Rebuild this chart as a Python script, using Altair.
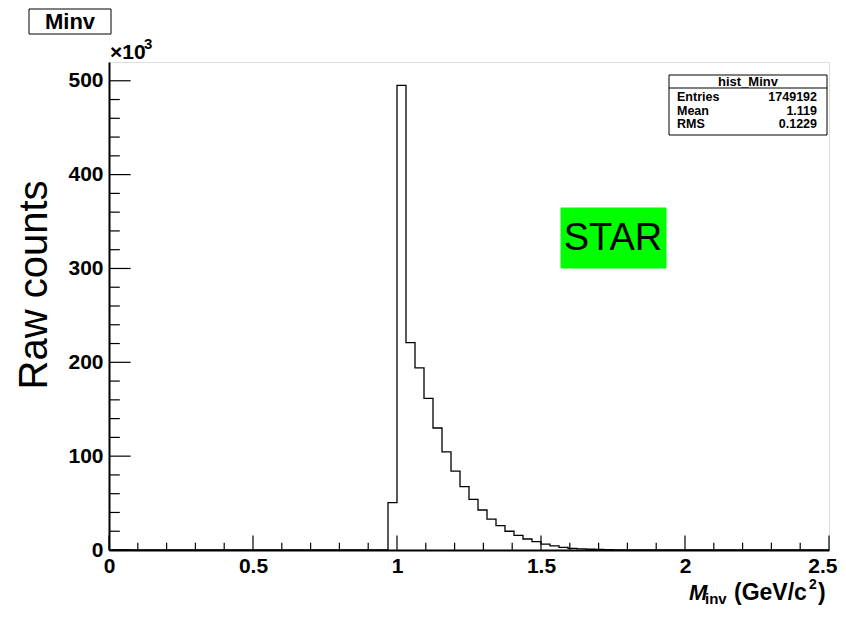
import altair as alt
import pandas as pd

# ---------------- data ----------------
N_BINS = 80
X_LOW, X_HIGH = 0.0, 2.5
counts = [0] * 31 + [
    50500, 495000, 221000, 194000, 161500, 130000, 104500, 84000, 67500, 54000,
    42600, 33000, 26000, 20000, 15600, 11700, 8900, 6200, 4300, 2800,
    1800, 1200, 800, 520, 350, 230, 150, 100, 70, 45,
    30, 20, 12, 8, 6, 4, 3, 2, 1, 1,
    0, 0, 0, 0, 0, 0, 0, 0, 0,
]
x_tick_labels = [0, 0.5, 1, 1.5, 2, 2.5]
y_tick_labels = [0, 100000, 200000, 300000, 400000, 500000]
x_minor_vals = [0.1, 0.2, 0.3, 0.4, 0.6, 0.7, 0.8, 0.9, 1.1, 1.2, 1.3, 1.4,
                1.6, 1.7, 1.8, 1.9, 2.1, 2.2, 2.3, 2.4]
y_minor_vals = [20000, 40000, 60000, 80000, 120000, 140000, 160000, 180000,
                220000, 240000, 260000, 280000, 320000, 340000, 360000, 380000,
                420000, 440000, 460000, 480000]
stats_names = ["Entries", "Mean", "RMS"]
stats_values = ["1749192", "1.119", "0.1229"]
Y_MAX = 520000

bw = (X_HIGH - X_LOW) / N_BINS
edges = [X_LOW + i * bw for i in range(N_BINS + 1)]
hist_df = pd.DataFrame({"x": edges, "y": counts + [counts[-1]]})

W, H = 720, 488
FONT = "Liberation Sans"

x_scale = alt.Scale(domain=[X_LOW, X_HIGH], nice=False, zero=False)
y_scale = alt.Scale(domain=[0, Y_MAX], nice=False)

x_axis = alt.Axis(values=x_tick_labels, format="~g", title=None, ticks=False,
                  domain=True, domainColor="black", domainWidth=2, grid=False,
                  labelFont=FONT, labelFontWeight="bold", labelFontSize=21,
                  labelColor="black", labelPadding=5, labelFlush=False,
                  labelOverlap=False, labelBound=False,
                  labelAlign={"expr": "datum.value >= 2.5 ? 'right' : 'center'"},
                  labelOffset={"expr": "datum.value >= 2.5 ? 8 : 0"})
y_axis = alt.Axis(values=y_tick_labels, labelExpr="datum.value/1000", title=None,
                  ticks=False, domain=True, domainColor="black", domainWidth=2,
                  grid=False, labelFont=FONT, labelFontWeight="bold",
                  labelFontSize=21, labelColor="black", labelPadding=6,
                  labelFlush=False, labelOverlap=False, labelBound=False)

hist = alt.Chart(hist_df).mark_line(
    interpolate="step-after", color="black", strokeWidth=1.3
).encode(
    x=alt.X("x:Q", scale=x_scale, axis=x_axis, title=None),
    y=alt.Y("y:Q", scale=y_scale, axis=y_axis, title=None),
)


def yticks(vals, length):
    return alt.Chart(pd.DataFrame({"v": vals})).mark_rule(
        color="black", strokeWidth=1.2
    ).encode(y=alt.Y("v:Q", scale=y_scale, axis=y_axis, title=None),
             x=alt.value(0), x2=alt.value(length))


def xticks(vals, length):
    return alt.Chart(pd.DataFrame({"v": vals})).mark_rule(
        color="black", strokeWidth=1.2
    ).encode(x=alt.X("v:Q", scale=x_scale, axis=x_axis, title=None),
             y=alt.value(H), y2=alt.value(H - length))


one = pd.DataFrame({"a": [0]})


def label(text, x, y, size, weight="bold", align="left", baseline="alphabetic",
          angle=0, style="normal"):
    return alt.Chart(one).mark_text(
        text=text, font=FONT, fontSize=size, fontWeight=weight, align=align,
        baseline=baseline, angle=angle, fontStyle=style, color="black"
    ).encode(x=alt.value(x), y=alt.value(y))


def box(x, x2, y, y2, fill="white", stroke="black"):
    return alt.Chart(one).mark_rect(fill=fill, stroke=stroke, strokeWidth=1).encode(
        x=alt.value(x), x2=alt.value(x2), y=alt.value(y), y2=alt.value(y2))


layers = [
    hist,
    yticks(y_tick_labels, 21.6), yticks(y_minor_vals, 10.8),
    xticks(x_tick_labels, 14.6), xticks(x_minor_vals, 7.3),
    # title box
    box(-80, 2, -53, -28),
    label("Minv", -39, -40, 22, align="center", baseline="middle"),
    # exponent
    label("×10", 1, -3, 21),
    label("3", 35, -13, 15),
    # stats box
    box(560, 718, 13, 73),
    alt.Chart(one).mark_rule(color="black", strokeWidth=1).encode(
        x=alt.value(560), x2=alt.value(718), y=alt.value(26)),
    label("hist_Minv", 639, 20, 13, align="center", baseline="middle"),
]
for i, (n, v) in enumerate(zip(stats_names, stats_values)):
    yy = 35 + i * 13.5
    layers.append(label(n, 568, yy, 12.5, baseline="middle"))
    layers.append(label(v, 708, yy, 12.5, align="right", baseline="middle"))

layers += [
    # STAR
    box(452, 557, 146, 206, fill="#00ff00", stroke="#00ff00"),
    label("STAR", 504, 177, 38, weight="normal", align="center", baseline="middle"),
    # y title
    label("Raw counts", -74, 223, 40, weight="normal", align="center",
          baseline="middle", angle=270),
    # x title
    label("M", 580, 538, 22, style="italic"),
    label("inv", 596, 542, 15),
    label("(GeV/c", 625, 538, 23),
    label("2", 700, 527, 14),
    label(")", 709, 538, 23),
]

chart = alt.layer(*layers).properties(
    width=W, height=H,
    autosize=alt.AutoSizeParams(type="none"),
    padding={"left": 101, "top": 54, "right": 9, "bottom": 58},
).configure_view(stroke="black", strokeWidth=1).configure(background="white")

chart.save("out.html", embed_options={"renderer": "svg", "actions": False})
